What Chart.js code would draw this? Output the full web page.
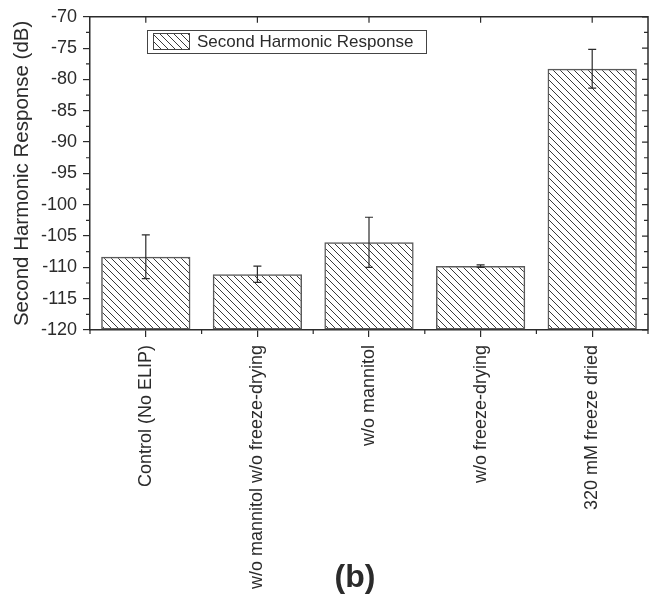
<!DOCTYPE html>
<html lang="en">
<head>
<meta charset="UTF-8">
<title>Second Harmonic Response</title>
<script src="https://cdn.jsdelivr.net/npm/chart.js"></script>
<style>
  body { margin: 0; background: #fff; }
  #wrap { width: 656px; height: 598px; }
</style>
</head>
<body>
<div id="wrap"><canvas id="myChart"></canvas></div>
<script>
// data
const categories = ['Control (No ELIP)', 'w/o mannitol w/o freeze-drying', 'w/o mannitol', 'w/o freeze-drying', '320 mM freeze dried'];
const responseDb = [-108.3, -111.1, -106.0, -109.8, -78.3];
const errorDb = [3.5, 1.3, 4.0, 0.2, 3.1];
const seriesLabel = 'Second Harmonic Response';
const yTitle = 'Second Harmonic Response (dB)';
const yMin = -120, yMax = -70, yStep = 5;
const panelLabel = '(b)';

const FONT = "'Liberation Sans', Arial, sans-serif";
const INK = '#2b2b2b';

// diagonal hatch fill, lines running top-left to bottom-right
function makeHatch() {
  const s = 7;
  const c = document.createElement('canvas');
  c.width = s; c.height = s;
  const g = c.getContext('2d');
  g.strokeStyle = '#3a3a3a';
  g.lineWidth = 1;
  g.beginPath();
  g.moveTo(-1, -1); g.lineTo(s + 1, s + 1);
  g.moveTo(-1, s - 1); g.lineTo(1, s + 1);
  g.moveTo(s - 1, -1); g.lineTo(s + 1, 1);
  g.stroke();
  return g.createPattern(c, 'repeat');
}
const hatch = makeHatch();

// error bars, frame, minor ticks, legend and panel label
const extras = {
  id: 'extras',
  afterDatasetsDraw(chart) {
    const { ctx, chartArea: a, scales: { x, y } } = chart;
    ctx.save();
    ctx.strokeStyle = INK;
    ctx.lineWidth = 1.2;

    // error bars
    const meta = chart.getDatasetMeta(0);
    meta.data.forEach((bar, i) => {
      const top = y.getPixelForValue(responseDb[i] + errorDb[i]);
      const bot = y.getPixelForValue(responseDb[i] - errorDb[i]);
      ctx.beginPath();
      ctx.moveTo(bar.x, top); ctx.lineTo(bar.x, bot);
      ctx.moveTo(bar.x - 4, top); ctx.lineTo(bar.x + 4, top);
      ctx.moveTo(bar.x - 4, bot); ctx.lineTo(bar.x + 4, bot);
      ctx.stroke();
    });

    // top and right frame lines
    ctx.lineWidth = 1.5;
    ctx.beginPath();
    ctx.moveTo(a.left, a.top); ctx.lineTo(a.right, a.top); ctx.lineTo(a.right, a.bottom);
    ctx.stroke();

    ctx.lineWidth = 1.2;
    ctx.beginPath();
    // y: minor ticks left (outward) and all ticks on right (inward)
    for (let v = yMin; v <= yMax + 0.01; v += yStep / 2) {
      const py = y.getPixelForValue(v);
      const major = Math.abs((v - yMin) % yStep) < 0.01;
      if (!major) { ctx.moveTo(a.left - 4, py); ctx.lineTo(a.left, py); }
      ctx.moveTo(a.right, py); ctx.lineTo(a.right - (major ? 6 : 4), py);
    }
    // x: top ticks at categories (inward), minor ticks at boundaries (outward)
    const w = (a.right - a.left) / categories.length;
    categories.forEach((c, i) => {
      const px = x.getPixelForValue(i);
      ctx.moveTo(px, a.top); ctx.lineTo(px, a.top + 6);
    });
    for (let k = 0; k <= categories.length; k++) {
      const px = a.left + k * w;
      ctx.moveTo(px, a.bottom); ctx.lineTo(px, a.bottom + 4);
    }
    ctx.stroke();

    // legend
    ctx.lineWidth = 1;
    ctx.strokeStyle = '#444';
    ctx.strokeRect(147.5, 30.5, 279, 23);
    ctx.fillStyle = hatch;
    ctx.fillRect(153, 33, 37, 17);
    ctx.strokeRect(153.5, 33.5, 36, 16);
    ctx.fillStyle = INK;
    ctx.font = '17px ' + FONT;
    ctx.textAlign = 'left';
    ctx.textBaseline = 'middle';
    ctx.fillText(seriesLabel, 197, 42);

    // panel label
    ctx.font = 'bold 32px ' + FONT;
    ctx.textAlign = 'center';
    ctx.fillText(panelLabel, 355, 578);
    ctx.restore();
  }
};

const chart = new Chart(document.getElementById('myChart'), {
  type: 'bar',
  data: {
    labels: categories,
    datasets: [{
      label: seriesLabel,
      data: responseDb,
      backgroundColor: hatch,
      borderColor: '#5a5a5a',
      borderWidth: 1.5,
      borderSkipped: false,
      barPercentage: 0.8,
      categoryPercentage: 1.0,
      base: yMin
    }]
  },
  options: {
    responsive: true,
    maintainAspectRatio: false,
    animation: false,
    layout: { padding: { top: 15, right: 8, left: 0, bottom: 0 } },
    plugins: {
      legend: { display: false },
      tooltip: { enabled: false }
    },
    scales: {
      x: {
        grid: { display: true, drawOnChartArea: false, offset: false, tickLength: 7, color: INK, lineWidth: 1.2 },
        border: { display: true, color: INK, width: 1.5 },
        ticks: {
          autoSkip: false, maxRotation: 90, minRotation: 90, padding: 8,
          color: INK, font: { family: FONT, size: 18 }
        },
        afterFit(scale) { scale.height = 268; }
      },
      y: {
        min: yMin, max: yMax,
        grid: { display: true, drawOnChartArea: false, tickLength: 7, color: INK, lineWidth: 1.2 },
        border: { display: true, color: INK, width: 1.5 },
        ticks: {
          stepSize: yStep, padding: 6,
          color: INK, font: { family: FONT, size: 18 }
        },
        title: {
          display: true, text: yTitle, color: INK,
          font: { family: FONT, size: 20.5 }, padding: { top: 10, bottom: 0 }
        },
        afterFit(scale) { scale.width = 90; }
      }
    }
  },
  plugins: [extras]
});
</script>
</body>
</html>
